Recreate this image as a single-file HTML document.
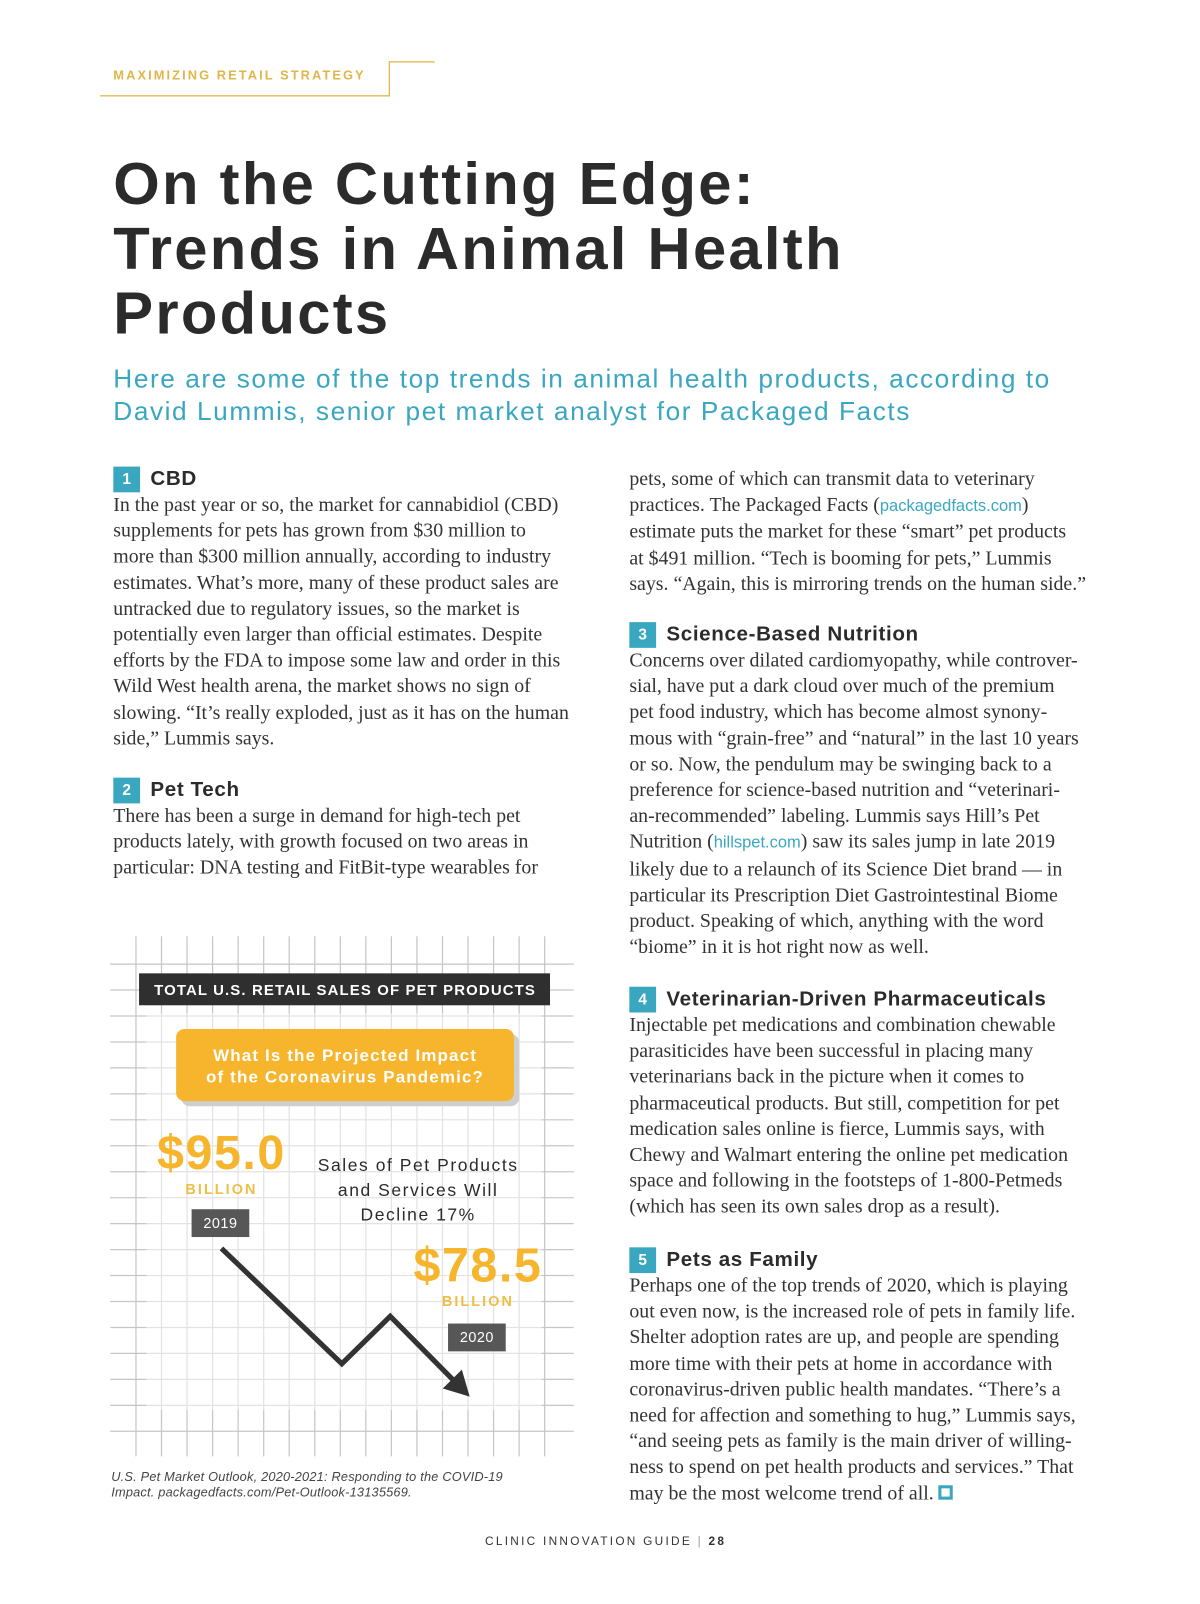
<!DOCTYPE html>
<html><head><meta charset="utf-8">
<style>
html,body{margin:0;padding:0;background:#fff;}
body{width:1200px;height:1604px;position:relative;overflow:hidden;}
#wrap{position:absolute;left:0;top:0;width:1165px;height:1557px;transform:scale(1.03);transform-origin:0 0;}
.abs{position:absolute;}
.sans{font-family:"Liberation Sans",sans-serif;}
.title{left:110px;top:147px;font-size:58px;font-weight:bold;line-height:63px;color:#2b2b2b;letter-spacing:2.2px;}
.sub{left:110px;top:352px;font-size:25.5px;line-height:32px;color:#3aa7c1;letter-spacing:1.5px;}
.col{width:470px;}
.num{display:inline-block;width:26px;height:25px;background:#3aa7c1;color:#fff;font-size:15px;font-weight:bold;text-align:center;line-height:25px;vertical-align:middle;margin-right:10px;letter-spacing:0;}
.hd{font-family:"Liberation Sans",sans-serif;font-size:20px;font-weight:bold;color:#2b2b2b;height:26px;line-height:26px;letter-spacing:0.6px;}
.body{font-family:"Liberation Serif",serif;font-size:19.3px;line-height:25.2px;color:#333;white-space:nowrap;}
.link{color:#3aa7c1;font-family:"Liberation Sans",sans-serif;font-size:16px;}
</style></head>
<body>
<div id="wrap">
<svg class="abs" style="left:0;top:0" width="1165" height="120">
<polyline points="97,93 378,93 378,60 422,60" fill="none" stroke="#e3bb55" stroke-width="1.3"/>
</svg>
<div class="abs sans" style="left:110px;top:66px;font-size:12.5px;letter-spacing:2px;color:#e0b64a;font-weight:bold">MAXIMIZING RETAIL STRATEGY</div>
<div class="abs sans title">On the Cutting Edge:<br>Trends in Animal Health<br>Products</div>
<div class="abs sans sub">Here are some of the top trends in animal health products, according to<br>David Lummis, senior pet market analyst for Packaged Facts</div>

<div class="abs col" style="left:110px;top:452px">
<div class="hd"><span class="num">1</span>CBD</div>
<div class="body">In the past year or so, the market for cannabidiol (CBD)<br>supplements for pets has grown from $30 million to<br>more than $300 million annually, according to industry<br>estimates. What’s more, many of these product sales are<br>untracked due to regulatory issues, so the market is<br>potentially even larger than official estimates. Despite<br>efforts by the FDA to impose some law and order in this<br>Wild West health arena, the market shows no sign of<br>slowing. “It’s really exploded, just as it has on the human<br>side,” Lummis says.</div>
</div>
<div class="abs col" style="left:110px;top:754px">
<div class="hd"><span class="num">2</span>Pet Tech</div>
<div class="body">There has been a surge in demand for high-tech pet<br>products lately, with growth focused on two areas in<br>particular: DNA testing and FitBit-type wearables for</div>
</div>
<div class="abs col" style="left:611px;top:453px">
<div class="body">pets, some of which can transmit data to veterinary<br>practices. The Packaged Facts (<span class="link">packagedfacts.com</span>)<br>estimate puts the market for these “smart” pet products<br>at $491 million. “Tech is booming for pets,” Lummis<br>says. “Again, this is mirroring trends on the human side.”</div>
</div>
<div class="abs col" style="left:611px;top:603px">
<div class="hd"><span class="num">3</span>Science-Based Nutrition</div>
<div class="body">Concerns over dilated cardiomyopathy, while controver-<br>sial, have put a dark cloud over much of the premium<br>pet food industry, which has become almost synony-<br>mous with “grain-free” and “natural” in the last 10 years<br>or so. Now, the pendulum may be swinging back to a<br>preference for science-based nutrition and “veterinari-<br>an-recommended” labeling. Lummis says Hill’s Pet<br>Nutrition (<span class="link">hillspet.com</span>) saw its sales jump in late 2019<br>likely due to a relaunch of its Science Diet brand — in<br>particular its Prescription Diet Gastrointestinal Biome<br>product. Speaking of which, anything with the word<br>“biome” in it is hot right now as well.</div>
</div>
<div class="abs col" style="left:611px;top:957px">
<div class="hd"><span class="num">4</span>Veterinarian-Driven Pharmaceuticals</div>
<div class="body">Injectable pet medications and combination chewable<br>parasiticides have been successful in placing many<br>veterinarians back in the picture when it comes to<br>pharmaceutical products. But still, competition for pet<br>medication sales online is fierce, Lummis says, with<br>Chewy and Walmart entering the online pet medication<br>space and following in the footsteps of 1-800-Petmeds<br>(which has seen its own sales drop as a result).</div>
</div>
<div class="abs col" style="left:611px;top:1210px">
<div class="hd"><span class="num">5</span>Pets as Family</div>
<div class="body">Perhaps one of the top trends of 2020, which is playing<br>out even now, is the increased role of pets in family life.<br>Shelter adoption rates are up, and people are spending<br>more time with their pets at home in accordance with<br>coronavirus-driven public health mandates. “There’s a<br>need for affection and something to hug,” Lummis says,<br>“and seeing pets as family is the main driver of willing-<br>ness to spend on pet health products and services.” That<br>may be the most welcome trend of all. <span style="display:inline-block;width:8px;height:8px;border:3px solid #3aa7c1;vertical-align:0"></span></div>
</div>
<div class="abs sans" style="left:0;width:1176px;text-align:center;top:1491px;font-size:11.5px;letter-spacing:2.2px;color:#333">CLINIC INNOVATION GUIDE <span style="color:#999">|</span> <b>28</b></div>

<svg id="chart" class="abs" style="left:-1px;top:-6px" width="1165" height="1557"></svg>
<div class="abs sans" style="left:108px;top:1427px;font-size:12.4px;font-style:italic;color:#444;line-height:14.5px;letter-spacing:0.2px">U.S. Pet Market Outlook, 2020-2021: Responding to the COVID-19<br>Impact. packagedfacts.com/Pet-Outlook-13135569.</div>
</div>

<script>
const years = [2019, 2020];
const salesValues = [95.0, 78.5];
const valueUnit = "BILLION";

const NS = "http://www.w3.org/2000/svg";
const svg = document.getElementById('chart');
function mk(tag, attrs, parent){const e=document.createElementNS(NS,tag);for(const k in attrs)e.setAttribute(k,attrs[k]);(parent||svg).appendChild(e);return e;}

// grid
const grid = mk('g',{});


for(let i=0;i<17;i++){const x=133+24.8*i;
  const l=mk('line',{x1:x,y1:915,x2:x,y2:1420,stroke:'#c6c6c6','stroke-width':1.2},grid);
  
  }
for(let j=0;j<19;j++){const y=942+25.2*j;
  const l=mk('line',{x1:108,y1:y,x2:558,y2:y,stroke:'#c6c6c6','stroke-width':1.2},grid);
  
  }
const panel=mk('rect',{x:143,y:990,width:384,height:385,fill:'#fff',opacity:0.5});



// title bar
const tb=mk('rect',{x:136,y:951,width:399,height:31,fill:'#2f2f2f'});


const tt=mk('text',{x:336,y:972,'text-anchor':'middle',fill:'#fff','font-family':'Liberation Sans, sans-serif','font-size':14.5,'font-weight':'bold','letter-spacing':1.1});
tt.textContent='TOTAL U.S. RETAIL SALES OF PET PRODUCTS';



// yellow question box
const sh=mk('rect',{x:177,y:1010,width:328,height:70,rx:8,fill:'#cfcfcf'});


const qb=mk('rect',{x:172,y:1005,width:328,height:70,rx:8,fill:'#f6b52c'});


['What Is the Projected Impact','of the Coronavirus Pandemic?'].forEach((s,i)=>{
  const t=mk('text',{x:336,y:1036+i*21,'text-anchor':'middle',fill:'#fff','font-family':'Liberation Sans, sans-serif','font-size':16.5,'font-weight':'bold','letter-spacing':1.1});
  t.textContent=s;
  
  });

// scales
const xScale = yr => 216 + (yr - years[0]) * (457 - 216);
const yScale = v => 1218 + (salesValues[0] - v) * (1362 - 1218) / 16.5;

const x0=xScale(years[0]), y0=yScale(salesValues[0]);
const x1=xScale(years[1]), y1=yScale(salesValues[1]);
const dx=x1-x0, dy=y1-y0;
const pA=[x0+dx*0.485, y0+dy*0.778];
const pB=[x0+dx*0.68, y0+dy*0.458];
const tip=[x1,y1];
const ang=Math.atan2(tip[1]-pB[1],tip[0]-pB[0]);
const back=[tip[0]-14*Math.cos(ang),tip[1]-14*Math.sin(ang)];
const trend=mk('polyline',{points:`${x0},${y0} ${pA[0]},${pA[1]} ${pB[0]},${pB[1]} ${back[0]},${back[1]}`,fill:'none',stroke:'#333','stroke-width':5,'stroke-linejoin':'miter'});


const L=24,W=13;
const bx=tip[0]-L*Math.cos(ang), by=tip[1]-L*Math.sin(ang);
const head=mk('polygon',{points:`${tip[0]},${tip[1]} ${bx+W*Math.sin(ang)},${by-W*Math.cos(ang)} ${bx-W*Math.sin(ang)},${by+W*Math.cos(ang)}`,fill:'#333'});



// value labels
const labelPos=[{vx:216,vy:1141,yearX:215,yearY:1193},{vx:465,vy:1250,yearX:464,yearY:1304}];
years.forEach((yr,i)=>{
  const p=labelPos[i];
  const v=mk('text',{x:p.vx,y:p.vy,'text-anchor':'middle',fill:'#f6b52c','font-family':'Liberation Sans, sans-serif','font-size':47,'font-weight':'bold','letter-spacing':1.5});
  v.textContent='$'+salesValues[i].toFixed(1);
  
  
  const b=mk('text',{x:p.vx,y:p.vy+24,'text-anchor':'middle',fill:'#efbf45','font-family':'Liberation Sans, sans-serif','font-size':14,'font-weight':'bold','letter-spacing':2});
  b.textContent=valueUnit;
  
  
  const r=mk('rect',{x:p.yearX-28,y:p.yearY-13,width:56,height:27,fill:'#575757'});
  
  
  const t=mk('text',{x:p.yearX,y:p.yearY+5,'text-anchor':'middle',fill:'#fff','font-family':'Liberation Sans, sans-serif','font-size':14,'letter-spacing':0.5});
  t.textContent=String(yr);
  
  
});

const pct=Math.round((1-salesValues[1]/salesValues[0])*100);
['Sales of Pet Products','and Services Will','Decline '+pct+'%'].forEach((s,i)=>{
  const t=mk('text',{x:407,y:1143+i*24,'text-anchor':'middle',fill:'#2b2b2b','font-family':'Liberation Sans, sans-serif','font-size':17,'letter-spacing':1.5});
  t.textContent=s;
  
  });
</script>
</body></html>
